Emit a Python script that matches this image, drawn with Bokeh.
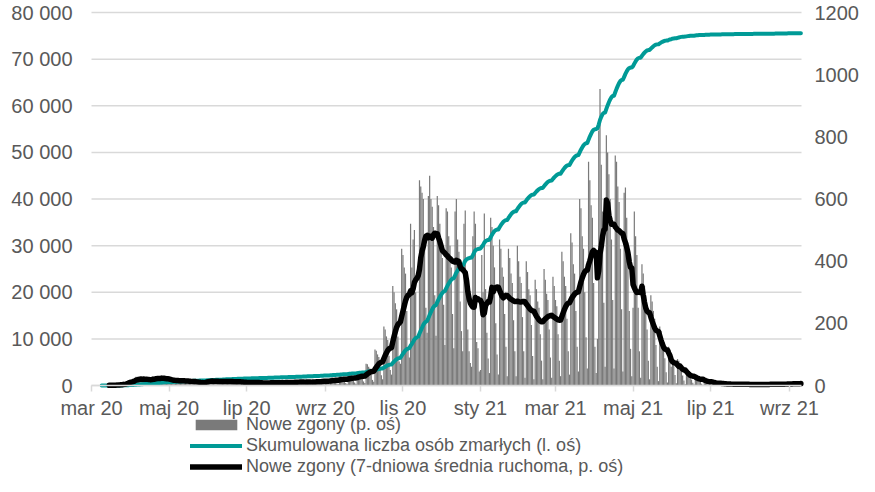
import pandas as pd
from bokeh.plotting import figure
from bokeh.models import (Range1d, LinearAxis, FixedTicker, Legend, LegendItem,
                          ColumnDataSource)
from bokeh.embed import file_html
from bokeh.resources import INLINE

# ---------------- data ----------------
first_day = "2020-03-12"
# daily new deaths (rows = weeks Mon..Sun, first row Thu..Sun)
new_deaths = [
    1, 1, 1, 0,
    0, 1, 0, 2, 0, 1, 1,
    2, 3, 4, 2, 3, 3, 5,
    6, 9, 12, 16, 14, 13, 12,
    15, 22, 28, 24, 20, 19, 17,
    13, 24, 26, 19, 20, 16, 14,
    12, 30, 28, 26, 28, 20, 15,
    13, 32, 30, 25, 21, 17, 14,
    9, 24, 21, 18, 17, 13, 10,
    8, 21, 20, 18, 16, 12, 9,
    7, 19, 17, 15, 14, 10, 8,
    5, 13, 12, 11, 9, 7, 6,
    6, 19, 21, 18, 16, 12, 7,
    5, 18, 19, 17, 15, 10, 7,
    6, 17, 20, 16, 14, 11, 7,
    5, 16, 18, 15, 13, 10, 7,
    4, 14, 15, 12, 11, 8, 6,
    3, 15, 14, 12, 12, 8, 6,
    3, 11, 12, 10, 9, 7, 4,
    3, 13, 13, 11, 10, 7, 6,
    2, 12, 14, 12, 11, 8, 4,
    3, 14, 15, 13, 12, 8, 5,
    3, 16, 17, 14, 13, 9, 5,
    4, 15, 16, 15, 13, 9, 5,
    3, 17, 18, 16, 15, 10, 5,
    4, 20, 22, 18, 17, 11, 6,
    4, 25, 26, 23, 20, 14, 7,
    5, 30, 31, 27, 24, 15, 8,
    5, 36, 37, 32, 29, 19, 10,
    6, 45, 46, 40, 36, 24, 13,
    8, 70, 68, 60, 55, 36, 18,
    12, 116, 112, 100, 92, 60, 33,
    20, 190, 180, 158, 146, 96, 50,
    35, 320, 300, 265, 245, 158, 77,
    70, 440, 420, 380, 360, 240, 120,
    90, 520, 380, 470, 500, 300, 155,
    150, 660, 640, 620, 600, 440, 250,
    170, 610, 675, 600, 575, 510, 290,
    160, 610, 580, 520, 470, 410, 260,
    130, 570, 560, 480, 450, 380, 230,
    120, 560, 600, 470, 430, 270, 175,
    110, 520, 563, 300, 180, 110, 72,
    60, 480, 560, 520, 140, 120, 45,
    50, 420, 300, 553, 310, 170, 87,
    40, 540, 510, 450, 380, 200, 100,
    35, 470, 440, 380, 350, 230, 125,
    30, 440, 410, 360, 330, 210, 110,
    30, 450, 400, 350, 330, 220, 110,
    25, 400, 365, 310, 290, 195, 95,
    20, 340, 310, 270, 250, 165, 80,
    20, 375, 340, 295, 275, 180, 90,
    25, 350, 320, 275, 255, 165, 80,
    30, 430, 400, 350, 320, 215, 110,
    35, 490, 460, 390, 360, 240, 125,
    45, 600, 570, 480, 440, 300, 155,
    55, 720, 660, 580, 540, 330, 125,
    40, 150, 820, 954, 710, 560, 266,
    60, 805, 750, 680, 600, 470, 275,
    55, 740, 720, 640, 590, 440, 245,
    45, 620, 637, 540, 460, 240, 118,
    30, 250, 560, 480, 420, 250, 110,
    25, 390, 360, 320, 290, 180, 80,
    20, 290, 270, 240, 215, 130, 60,
    14, 190, 175, 155, 140, 88, 43,
    10, 125, 115, 60, 95, 65, 34,
    7, 85, 80, 70, 60, 32, 16,
    4, 52, 48, 42, 36, 19, 9,
    3, 34, 32, 28, 24, 13, 6,
    2, 20, 19, 17, 15, 7, 4,
    1, 12, 11, 10, 8, 5, 2,
    1, 9, 8, 7, 6, 3, 1,
    0, 7, 7, 5, 5, 3, 1,
    1, 6, 7, 6, 4, 3, 1,
    0, 5, 5, 4, 4, 2, 1,
    0, 5, 4, 5, 4, 2, 1,
    1, 6, 6, 5, 5, 3, 2,
    1, 6, 7, 6, 4, 3, 1,
    1, 8, 8, 7, 6, 3, 2,
    1, 10, 9, 9, 7, 4, 2,
    2,
]

x_start = "2020-03-04"
x_end = "2021-09-13"
x_tick_dates = ["2020-03-04", "2020-05-04", "2020-07-04", "2020-09-04", "2020-11-04",
                "2021-01-04", "2021-03-04", "2021-05-04", "2021-07-04", "2021-09-04"]
x_tick_labels = ["mar 20", "maj 20", "lip 20", "wrz 20", "lis 20",
                 "sty 21", "mar 21", "maj 21", "lip 21", "wrz 21"]
left_max = 80000
left_ticks = [0, 10000, 20000, 30000, 40000, 50000, 60000, 70000, 80000]
left_tick_labels = ["0", "10 000", "20 000", "30 000", "40 000", "50 000",
                    "60 000", "70 000", "80 000"]
right_max = 1200
right_ticks = [0, 200, 400, 600, 800, 1000, 1200]
series_names = ["Nowe zgony (p. oś)",
                "Skumulowana liczba osób zmarłych (l. oś)",
                "Nowe zgony (7-dniowa średnia ruchoma, p. oś)"]

# ---------------- derived table ----------------
dates = pd.date_range(first_day, periods=len(new_deaths), freq="D")
s = pd.Series(new_deaths, index=dates, dtype=float)
src = ColumnDataSource(dict(date=dates, deaths=s.values,
                            cum=s.cumsum().values,
                            ma=s.rolling(7).mean().values))

def ms(d):
    return pd.Timestamp(d).value / 1e6

DAY = 86400000.0
FONT = "Liberation Sans"
TXT = "#595959"
GRID = "#d9d9d9"

# ---------------- layout (canvas pixels) ----------------
W, H = 859, 476
PL, PR, PT, PB = 91, 801, 12, 385          # plot area inside the canvas
x0, x1 = ms(x_start), ms(x_end) + 0.5 * DAY
kx = (PR - PL) / (x1 - x0)
ky_l = (PB - PT) / left_max
ky_r = (PB - PT) / right_max

p = figure(x_axis_type="datetime", width=W, height=H,
           output_backend="svg", toolbar_location=None,
           x_range=Range1d(x0 - PL / kx, x1 + (W - PR) / kx),
           y_range=Range1d(-(H - PB) / ky_l, left_max + PT / ky_l),
           min_border_left=0, min_border_right=0, min_border_top=0,
           min_border_bottom=0)
p.extra_y_ranges = {"right": Range1d(-(H - PB) / ky_r, right_max + PT / ky_r)}
p.outline_line_color = None
p.xgrid.visible = False
p.ygrid.visible = False

# horizontal gridlines across the plot area only
grid_src = ColumnDataSource(dict(x0=[x0] * len(left_ticks), x1=[x1] * len(left_ticks),
                                 y=left_ticks))
p.segment(x0="x0", y0="y", x1="x1", y1="y", source=grid_src,
          line_color=GRID, line_width=1.5)

bars = p.vbar(x="date", top="deaths", width=0.95 * DAY, source=src,
              y_range_name="right", fill_color="#7a7a7a", line_color=None)
teal = p.line("date", "cum", source=src, line_color="#009a96", line_width=4,
              line_join="round", line_cap="round")
black = p.line("date", "ma", source=src, y_range_name="right", line_color="black",
               line_width=5.5, line_join="round", line_cap="round")

def style_y(ax, standoff):
    ax.axis_line_color = None
    ax.major_tick_line_color = None
    ax.major_tick_out = 0
    ax.major_tick_in = 0
    ax.minor_tick_line_color = None
    ax.minor_tick_out = 0
    ax.minor_tick_in = 0
    ax.major_label_standoff = standoff
    ax.major_label_text_font = FONT
    ax.major_label_text_font_size = "20px"
    ax.major_label_text_color = TXT

# left axis (at the left edge of the plot area)
ya = p.yaxis[0]
ya.fixed_location = x0
ya.ticker = FixedTicker(ticks=left_ticks)
ya.major_label_overrides = {t: l for t, l in zip(left_ticks, left_tick_labels)}
style_y(ya, 19)

# right axis (at the right edge of the plot area)
ra = LinearAxis(y_range_name="right", ticker=FixedTicker(ticks=right_ticks),
                fixed_location=x1)
style_y(ra, 13)
p.add_layout(ra, "right")

# bottom axis, drawn at the zero line
xa = p.xaxis[0]
xa.fixed_location = 0
xa.bounds = (x0, x1)
xa.ticker = FixedTicker(ticks=[ms(d) for d in x_tick_dates])
xa.major_label_overrides = {ms(d): l for d, l in zip(x_tick_dates, x_tick_labels)}
xa.axis_line_color = GRID
xa.axis_line_width = 1.5
xa.major_tick_line_color = GRID
xa.major_tick_line_width = 1.5
xa.major_tick_out = 6
xa.major_tick_in = 0
xa.minor_tick_line_color = None
xa.minor_tick_out = 0
xa.major_label_standoff = 5
xa.major_label_text_font = FONT
xa.major_label_text_font_size = "20px"
xa.major_label_text_color = TXT

# legend under the axis labels
legend = Legend(items=[LegendItem(label=series_names[0], renderers=[bars]),
                       LegendItem(label=series_names[1], renderers=[teal]),
                       LegendItem(label=series_names[2], renderers=[black])],
                location=(190, -1))
legend.padding = 0
legend.margin = 0
legend.spacing = 0
legend.label_height = 20
legend.glyph_height = 13
legend.glyph_width = 52
legend.label_standoff = 4
legend.background_fill_alpha = 0
legend.border_line_alpha = 0
legend.label_text_font = FONT
legend.label_text_font_size = "18px"
legend.label_text_color = TXT
p.add_layout(legend)

open("out.html", "w").write(file_html(p, INLINE))
